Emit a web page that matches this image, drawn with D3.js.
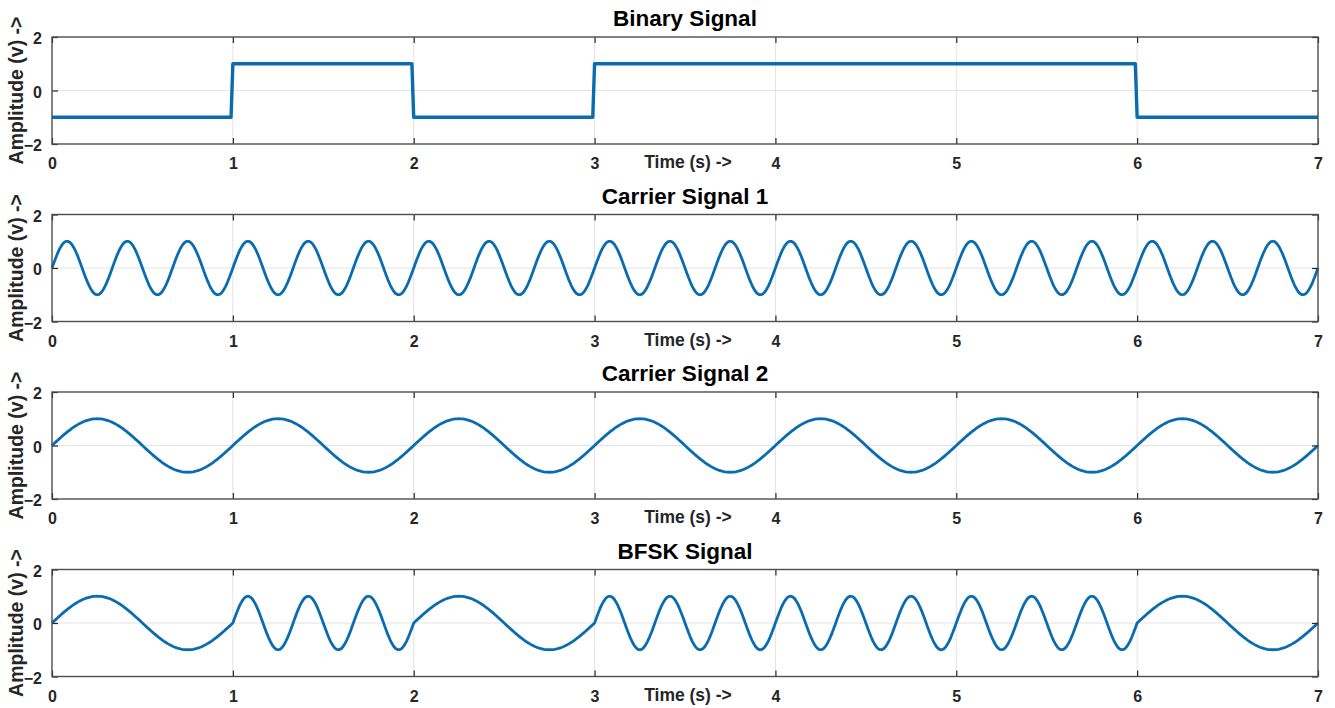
<!DOCTYPE html>
<html>
<head>
<meta charset="utf-8">
<script src="https://cdn.jsdelivr.net/npm/d3@7"></script>
<style>
  html, body { margin: 0; padding: 0; background: #ffffff; }
  svg { display: block; font-family: "Liberation Sans", Arial, sans-serif; }
</style>
</head>
<body>
<svg id="chart" width="1335" height="708"></svg>
<script>
// Bit stream, one bit per second
const bits = [0, 1, 0, 1, 1, 1, 0];
// Carrier frequencies in Hz: carrier 1 carries bit 1, carrier 2 carries bit 0
const carrierFreqs = [3, 1];
const amplitude = 1;
const samplesPerSecond = 100;

const titles = ["Binary Signal", "Carrier Signal 1", "Carrier Signal 2", "BFSK Signal"];
const xTicks = [0, 1, 2, 3, 4, 5, 6, 7];
const yTicks = [-2, 0, 2];
const xLabel = "Time (s) ->";
const yLabel = "Amplitude (v) ->";

const duration = bits.length;
const times = d3.range(0, duration * samplesPerSecond + 1).map(i => i / samplesPerSecond);
const bitAt = t => bits[Math.min(bits.length - 1, Math.floor(t))];

const binarySeries = times.map(t => ({ t, v: bitAt(t) === 1 ? amplitude : -amplitude }));
const carrier1Series = times.map(t => ({ t, v: amplitude * Math.sin(2 * Math.PI * carrierFreqs[0] * t) }));
const carrier2Series = times.map(t => ({ t, v: amplitude * Math.sin(2 * Math.PI * carrierFreqs[1] * t) }));
const bfskSeries = times.map((t, i) => ({
  t,
  v: bitAt(t) === 1 ? carrier1Series[i].v : carrier2Series[i].v
}));

const panels = [
  { title: titles[0], data: binarySeries, width: 3.4 },
  { title: titles[1], data: carrier1Series, width: 2.8 },
  { title: titles[2], data: carrier2Series, width: 2.8 },
  { title: titles[3], data: bfskSeries, width: 2.8 }
];

const svg = d3.select("#chart");
const left = 52, right = 1318, panelHeight = 107, firstTop = 37, step = 177.5;

const x = d3.scaleLinear().domain([0, duration]).range([left, right]);

panels.forEach((p, idx) => {
  const top = firstTop + idx * step;
  const bottom = top + panelHeight;
  const y = d3.scaleLinear().domain([-2, 2]).range([bottom, top]);
  const g = svg.append("g");

  // grid
  g.selectAll("line.vgrid").data(xTicks.slice(1, -1)).join("line")
    .attr("x1", d => x(d)).attr("x2", d => x(d))
    .attr("y1", top).attr("y2", bottom)
    .attr("stroke", "#e3e3e3").attr("stroke-width", 1);
  g.append("line")
    .attr("x1", left).attr("x2", right)
    .attr("y1", y(0)).attr("y2", y(0))
    .attr("stroke", "#e3e3e3").attr("stroke-width", 1);

  // signal trace
  const line = d3.line().x(d => x(d.t)).y(d => y(d.v));
  g.append("path")
    .datum(p.data)
    .attr("d", line)
    .attr("fill", "none")
    .attr("stroke", "#0a6cb0")
    .attr("stroke-width", p.width)
    .attr("stroke-linejoin", "round");

  // bottom axis (tick labels) and top ticks
  const xAxis = d3.axisBottom(x).tickValues(xTicks).tickSize(-6).tickSizeOuter(0).tickPadding(14)
    .tickFormat(d3.format("d"));
  const gx = g.append("g").attr("transform", `translate(0,${bottom})`).call(xAxis);
  const xAxisTop = d3.axisTop(x).tickValues(xTicks).tickSize(-6).tickSizeOuter(0).tickFormat("");
  const gxt = g.append("g").attr("transform", `translate(0,${top})`).call(xAxisTop);

  const yAxis = d3.axisLeft(y).tickValues(yTicks).tickSize(-6).tickSizeOuter(0).tickPadding(10)
    .tickFormat(d3.format("d"));
  const gy = g.append("g").attr("transform", `translate(${left},0)`).call(yAxis);
  const yAxisRight = d3.axisRight(y).tickValues(yTicks).tickSize(-6).tickSizeOuter(0).tickFormat("");
  const gyr = g.append("g").attr("transform", `translate(${right},0)`).call(yAxisRight);

  [gx, gxt, gy, gyr].forEach(a => {
    a.select(".domain").remove();
    a.selectAll(".tick line").attr("stroke", "#262626").attr("stroke-width", 1.2);
    a.selectAll(".tick text")
      .attr("fill", "#262626")
      .attr("font-size", 16)
      .attr("font-weight", "bold");
  });
  gy.selectAll(".tick text").attr("dy", "0.42em");

  // axes box
  g.append("rect")
    .attr("x", left).attr("y", top)
    .attr("width", right - left).attr("height", panelHeight)
    .attr("fill", "none").attr("stroke", "#4d4d4d").attr("stroke-width", 1.4);

  // title
  g.append("text")
    .attr("x", (left + right) / 2).attr("y", top - 11)
    .attr("text-anchor", "middle")
    .attr("font-size", 22.5).attr("font-weight", "bold").attr("fill", "#000")
    .text(p.title);

  // x label
  g.append("text")
    .attr("x", 688).attr("y", bottom + 24)
    .attr("text-anchor", "middle")
    .attr("font-size", 17.5).attr("font-weight", "bold").attr("fill", "#262626")
    .text(xLabel);

  // y label
  g.append("text")
    .attr("transform", `translate(23,${(top + bottom) / 2}) rotate(-90)`)
    .attr("text-anchor", "middle")
    .attr("font-size", 19.5).attr("font-weight", "bold").attr("fill", "#262626")
    .text(yLabel);
});
</script>
</body>
</html>
